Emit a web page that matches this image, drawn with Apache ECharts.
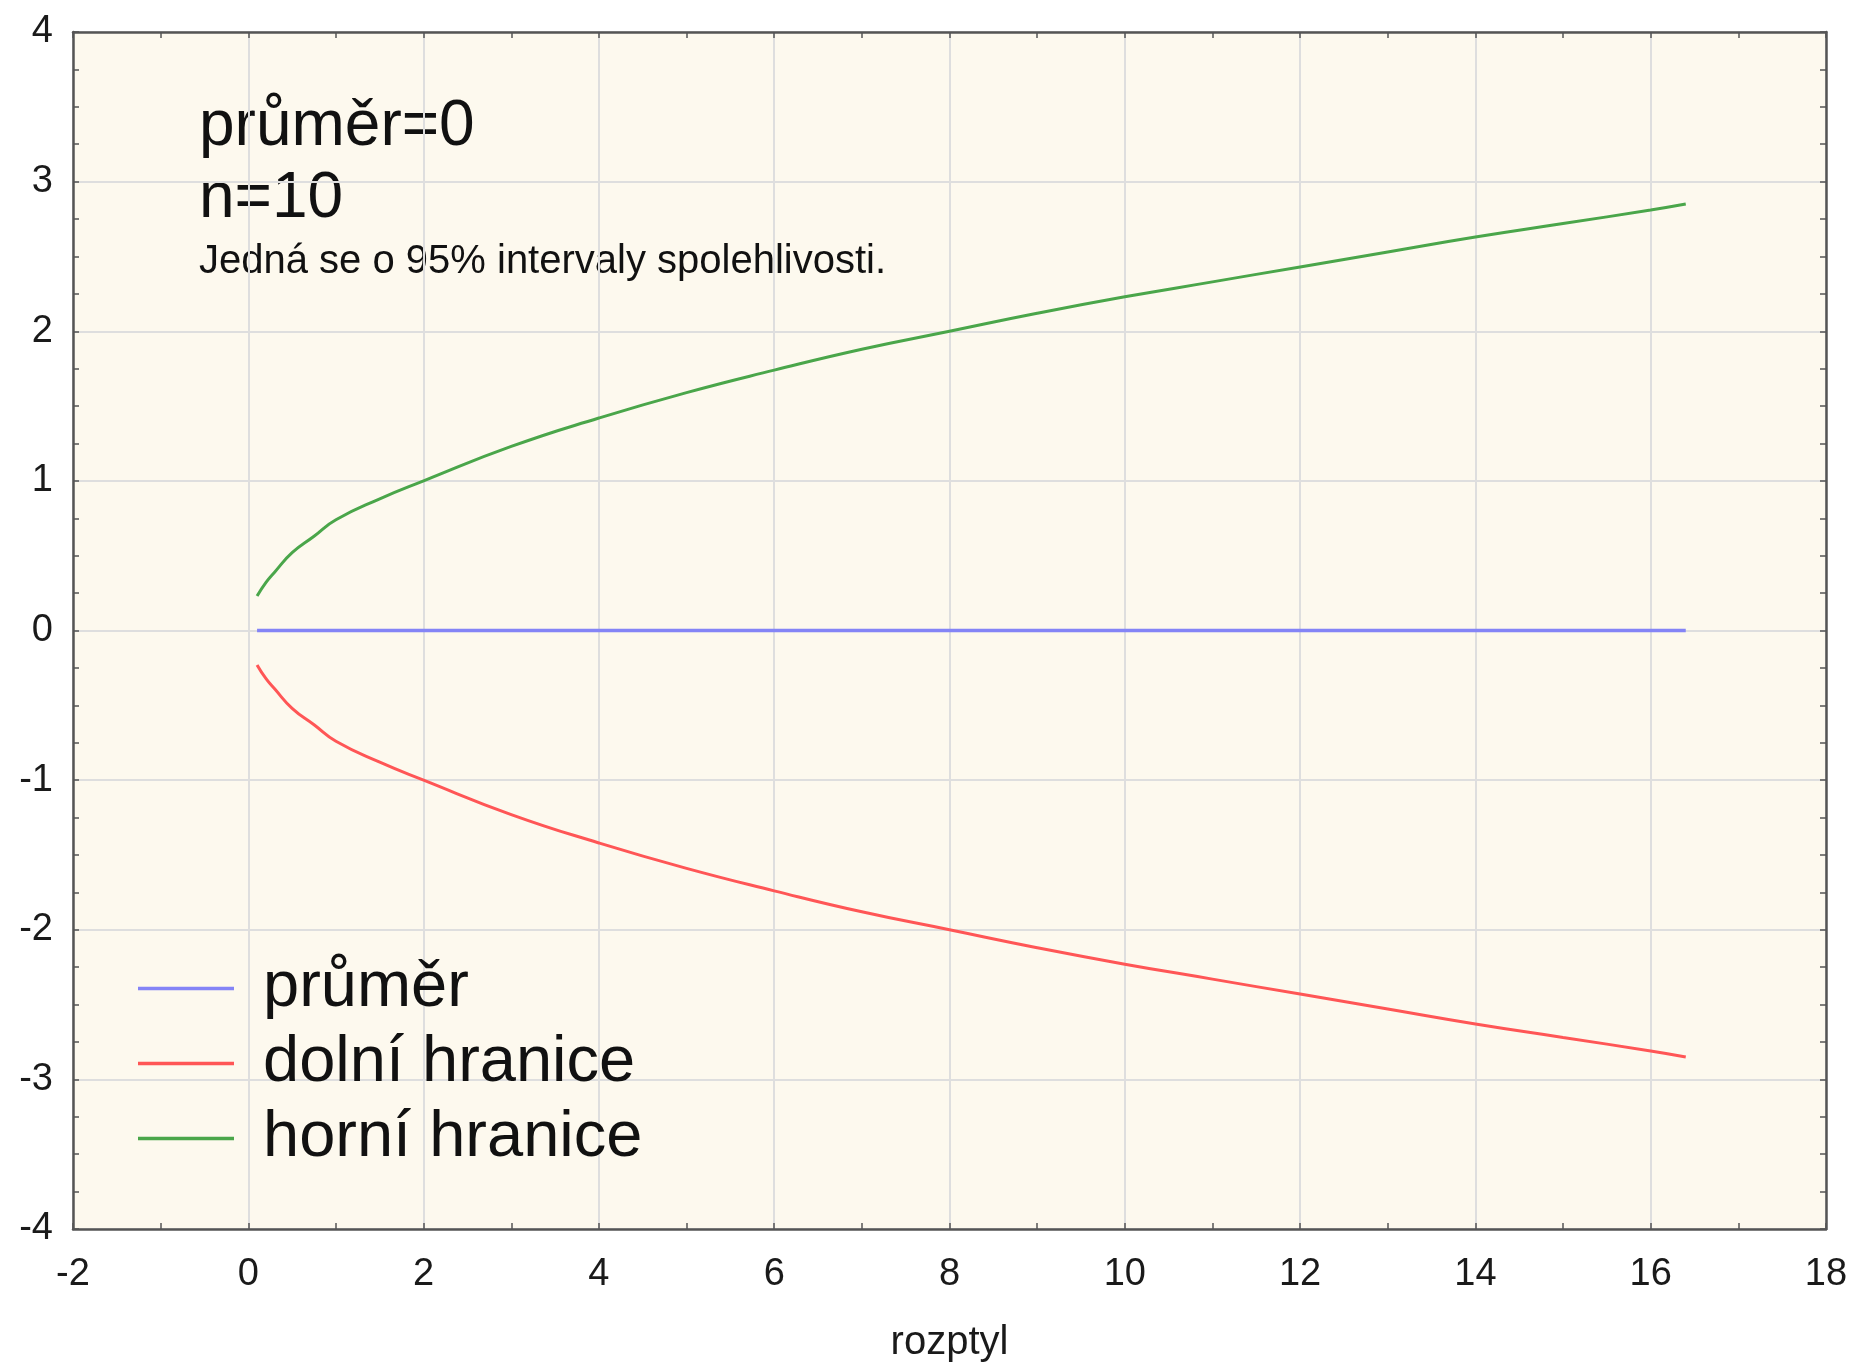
<!DOCTYPE html>
<html>
<head>
<meta charset="utf-8">
<script src="https://cdn.jsdelivr.net/npm/echarts@6/dist/echarts.min.js"></script>
<style>
html,body{margin:0;padding:0;background:#fff;}
#c{width:1858px;height:1368px;}
</style>
</head>
<body>
<div id="c"></div>
<script>
const rozptyl = [0.1, 0.2, 0.3, 0.5, 0.75, 1, 1.5, 2, 3, 4, 5, 6, 7, 8, 9, 10, 11, 12, 13, 14, 15, 16, 16.4];
const prumer  = [0, 0, 0, 0, 0, 0, 0, 0, 0, 0, 0, 0, 0, 0, 0, 0, 0, 0, 0, 0, 0, 0, 0];
const dolni   = [-0.23, -0.32, -0.39, -0.52, -0.63, -0.74, -0.88, -1.0, -1.23, -1.42, -1.59, -1.74, -1.88, -2.0, -2.12, -2.23, -2.33, -2.43, -2.53, -2.63, -2.72, -2.81, -2.85];
const horni   = [0.23, 0.32, 0.39, 0.52, 0.63, 0.74, 0.88, 1.0, 1.23, 1.42, 1.59, 1.74, 1.88, 2.0, 2.12, 2.23, 2.33, 2.43, 2.53, 2.63, 2.72, 2.81, 2.85];
const seriesNames = ['průměr', 'dolní hranice', 'horní hranice'];
const annotLines = ['průměr=0', 'n=10', 'Jedná se o 95% intervaly spolehlivosti.'];
const xAxisName = 'rozptyl';

const FONT = '"Liberation Sans", Arial, sans-serif';
const pair = (xs, ys) => xs.map((x, i) => [x, ys[i]]);
const axisLineStyle = {color: '#555', width: 2.5};
const tickCommon = {show: true, inside: true, length: 6, lineStyle: {color: '#555', width: 1.5}};
const minorCommon = (n) => ({show: true, splitNumber: n, length: 6, lineStyle: {color: '#555', width: 1.5}});

const chart = echarts.init(document.getElementById('c'));
chart.setOption({
  animation: false,
  backgroundColor: '#ffffff',
  textStyle: {fontFamily: FONT},
  grid: {left: 73, right: 32, top: 32, bottom: 136, show: true, backgroundColor: '#fdf9ee', borderWidth: 0},
  xAxis: [{
    type: 'value', min: -2, max: 18, interval: 2, position: 'bottom',
    name: xAxisName, nameLocation: 'middle', nameGap: 94,
    nameTextStyle: {fontSize: 40, color: '#1a1a1a', fontFamily: FONT},
    axisLine: {show: true, onZero: false, lineStyle: axisLineStyle},
    axisTick: tickCommon,
    minorTick: minorCommon(2),
    axisLabel: {fontSize: 38, color: '#1a1a1a', margin: 27, fontFamily: FONT},
    splitLine: {show: true, lineStyle: {color: '#dedede', width: 2}}
  }, {
    type: 'value', min: -2, max: 18, interval: 2, position: 'top',
    axisLine: {show: true, onZero: false, lineStyle: axisLineStyle},
    axisTick: tickCommon,
    minorTick: minorCommon(2),
    axisLabel: {show: false}, splitLine: {show: false}
  }],
  yAxis: [{
    type: 'value', min: -4, max: 4, interval: 1, position: 'left',
    axisLine: {show: true, onZero: false, lineStyle: axisLineStyle},
    axisTick: tickCommon,
    minorTick: minorCommon(4),
    axisLabel: {fontSize: 38, color: '#1a1a1a', margin: 20, fontFamily: FONT},
    splitLine: {show: true, lineStyle: {color: '#dedede', width: 2}}
  }, {
    type: 'value', min: -4, max: 4, interval: 1, position: 'right',
    axisLine: {show: true, onZero: false, lineStyle: axisLineStyle},
    axisTick: tickCommon,
    minorTick: minorCommon(4),
    axisLabel: {show: false}, splitLine: {show: false}
  }],
  legend: {
    orient: 'vertical', left: 133, top: 951, itemWidth: 96, itemHeight: 10, itemGap: 10,
    textStyle: {fontSize: 65, color: '#111', fontFamily: FONT, padding: [0, 0, 0, 24]},
    data: seriesNames.map(n => ({name: n, icon: 'path://M0,0L96,0L96,3.5L0,3.5Z'}))
  },
  graphic: [
    {type: 'text', left: 199, top: 95, style: {text: annotLines[0], font: '64px ' + FONT, fill: '#111'}},
    {type: 'text', left: 199, top: 167, style: {text: annotLines[1], font: '64px ' + FONT, fill: '#111'}},
    {type: 'text', left: 199, top: 242, style: {text: annotLines[2], font: '40px ' + FONT, fill: '#111'}}
  ],
  series: [
    {name: seriesNames[0], type: 'line', data: pair(rozptyl, prumer), symbol: 'none', lineStyle: {color: '#8484f6', width: 3.5}, itemStyle: {color: '#8484f6'}},
    {name: seriesNames[1], type: 'line', data: pair(rozptyl, dolni), symbol: 'none', smooth: true, lineStyle: {color: '#ff5656', width: 3}, itemStyle: {color: '#ff5656'}},
    {name: seriesNames[2], type: 'line', data: pair(rozptyl, horni), symbol: 'none', smooth: true, lineStyle: {color: '#4aa64a', width: 3}, itemStyle: {color: '#4aa64a'}}
  ]
});
</script>
</body>
</html>
